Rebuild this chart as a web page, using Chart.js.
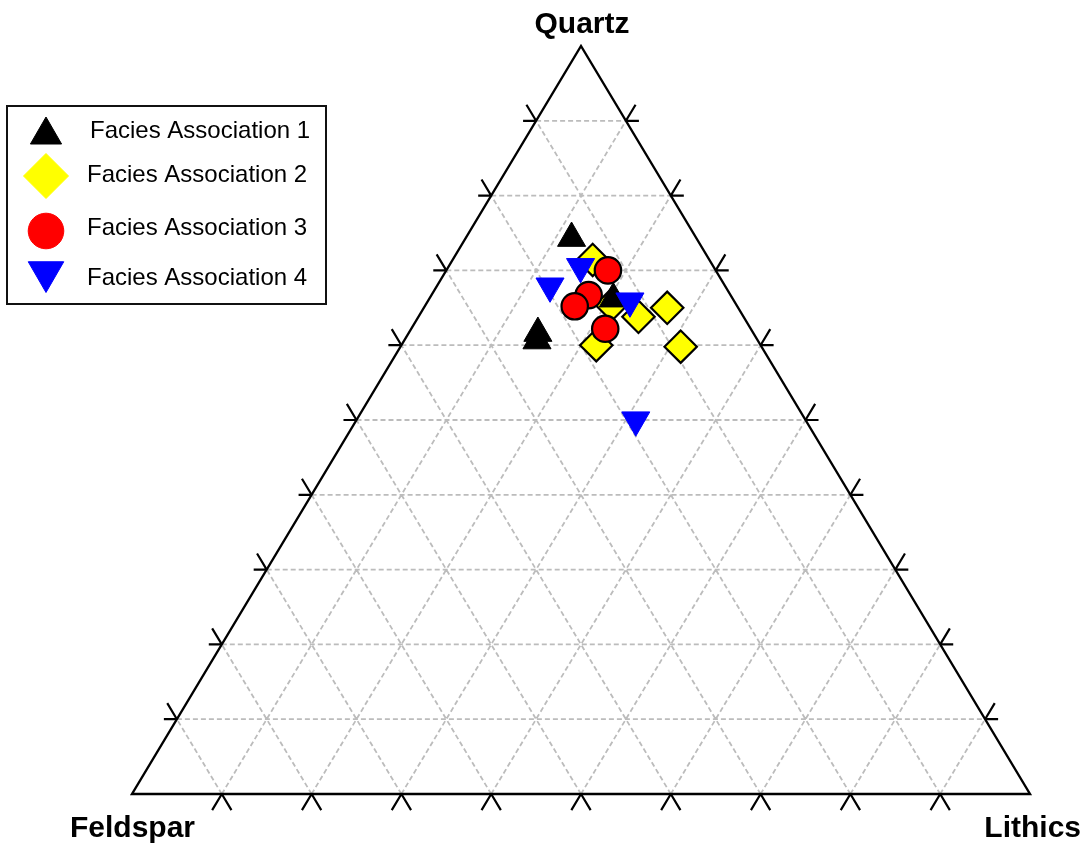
<!DOCTYPE html>
<html>
<head>
<meta charset="utf-8">
<script src="https://cdn.jsdelivr.net/npm/chart.js@4.4.1/dist/chart.umd.min.js"></script>
<style>
  html, body { margin: 0; padding: 0; background: #ffffff; }
  canvas { display: block; }
</style>
</head>
<body>
<canvas id="qfl" width="1089" height="847"></canvas>
<script>
// QFL sandstone composition (percent Quartz / Feldspar / Lithics) per facies association
const seriesNames = ['Facies Association 1', 'Facies Association 2', 'Facies Association 3', 'Facies Association 4'];
const vertexLabels = ['Quartz', 'Feldspar', 'Lithics'];

const fa1Quartz   = [74.3, 66.2, 61.6, 60.6];
const fa1Feldspar = [13.9, 13.3, 24.0, 24.6];
const fa1Lithics  = [11.8, 20.5, 14.4, 14.8];

const fa2Quartz   = [71.4, 65.4, 63.8, 65.0, 60.0, 59.8];
const fa2Feldspar = [13.0, 13.9, 11.7,  7.9, 18.3,  9.0];
const fa2Lithics  = [15.6, 20.7, 24.5, 27.1, 21.7, 31.2];

const fa3Quartz   = [70.0, 66.7, 65.2, 62.2];
const fa3Feldspar = [12.0, 15.8, 18.1, 16.2];
const fa3Lithics  = [18.0, 17.5, 16.7, 21.6];

const fa4Quartz   = [70.5, 67.9, 65.9, 50.0];
const fa4Feldspar = [14.8, 19.5, 11.6, 18.9];
const fa4Lithics  = [14.7, 12.6, 22.5, 31.1];

// grid lines every 10 %
const gridSteps = [10, 20, 30, 40, 50, 60, 70, 80, 90];

// ternary (fractions summing to 1) -> cartesian: Feldspar at (0,0), Lithics at (1,0), Quartz at (0.5,1)
function toXY(q, f, l) {
  const s = q + f + l;
  return { x: (l + q / 2) / s, y: q / s };
}
function seriesPoints(qs, fs, ls) {
  return qs.map((q, i) => toXY(q / 100, fs[i] / 100, ls[i] / 100));
}

const GAP = { x: NaN, y: NaN };
const H_TICK = 0.0145;   // outward extension of horizontal grid lines
const S_TICK = 0.0215;   // outward extension of slanted grid lines

const gridPts = [];
const tickPts = [];
gridSteps.forEach(v => {
  const t = v / 100;
  // constant quartz (horizontal)
  gridPts.push(toXY(t, 1 - t, 0), toXY(t, 0, 1 - t), GAP);
  tickPts.push(toXY(t, 1 - t, 0), toXY(t, 1 - t + H_TICK, -H_TICK), GAP);
  tickPts.push(toXY(t, 0, 1 - t), toXY(t, -H_TICK, 1 - t + H_TICK), GAP);
  // constant lithics
  gridPts.push(toXY(0, 1 - t, t), toXY(1 - t, 0, t), GAP);
  tickPts.push(toXY(0, 1 - t, t), toXY(-S_TICK, 1 - t + S_TICK, t), GAP);
  tickPts.push(toXY(1 - t, 0, t), toXY(1 - t + S_TICK, -S_TICK, t), GAP);
  // constant feldspar
  gridPts.push(toXY(0, t, 1 - t), toXY(1 - t, t, 0), GAP);
  tickPts.push(toXY(0, t, 1 - t), toXY(-S_TICK, t, 1 - t + S_TICK), GAP);
  tickPts.push(toXY(1 - t, t, 0), toXY(1 - t + S_TICK, t, -S_TICK), GAP);
});

// outline: start mid-base so every corner gets a joined stroke
const framePts = [toXY(0, 0.5, 0.5), toXY(0, 0, 1), toXY(1, 0, 0), toXY(0, 1, 0), toXY(0, 0.5, 0.5)];

const markerStyles = [
  { pointStyle: 'triangle', pointRadius: 16.2, pointRotation: 0,   pointBackgroundColor: '#000000', pointBorderColor: '#000000', pointBorderWidth: 1 },
  { pointStyle: 'rectRot',  pointRadius: 16.2, pointRotation: 0,   pointBackgroundColor: '#ffff00', pointBorderColor: '#000000', pointBorderWidth: 2.2 },
  { pointStyle: 'circle',   pointRadius: 13.2, pointRotation: 0,   pointBackgroundColor: '#ff0000', pointBorderColor: '#000000', pointBorderWidth: 2.2 },
  { pointStyle: 'triangle', pointRadius: 16.2, pointRotation: 180, pointBackgroundColor: '#0000ff', pointBorderColor: '#0000ff', pointBorderWidth: 1 }
];
const drawOrder = [3, 4, 2, 1];
const seriesData = [
  seriesPoints(fa1Quartz, fa1Feldspar, fa1Lithics),
  seriesPoints(fa2Quartz, fa2Feldspar, fa2Lithics),
  seriesPoints(fa3Quartz, fa3Feldspar, fa3Lithics),
  seriesPoints(fa4Quartz, fa4Feldspar, fa4Lithics)
];

const pointDatasets = seriesNames.map((name, i) => Object.assign({
  label: name,
  data: seriesData[i],
  showLine: false,
  order: drawOrder[i],
  pointHoverRadius: markerStyles[i].pointRadius
}, markerStyles[i]));

const lineDefaults = { showLine: true, pointRadius: 0, pointHoverRadius: 0, tension: 0, fill: false, spanGaps: false };

// legend box, drawn with the same marker styles as the datasets
const legendBox = { left: 7, top: 106, right: 326, bottom: 304 };
const legendRows = [
  { mx: 46, my: 135, r: 18,   tx: 90, ty: 138 },
  { mx: 46, my: 176, r: 22.5, tx: 87, ty: 182 },
  { mx: 46, my: 231, r: 17.8, tx: 87, ty: 235 },
  { mx: 46, my: 272, r: 20.5, tx: 87, ty: 285 }
];

const legendPlugin = {
  id: 'qflLegend',
  afterDraw(chart) {
    const ctx = chart.ctx;
    ctx.save();
    ctx.lineWidth = 2;
    ctx.strokeStyle = '#111111';
    ctx.strokeRect(legendBox.left, legendBox.top, legendBox.right - legendBox.left, legendBox.bottom - legendBox.top);
    legendRows.forEach((row, i) => {
      const st = markerStyles[i];
      ctx.fillStyle = st.pointBackgroundColor;
      ctx.strokeStyle = st.pointBackgroundColor;
      ctx.lineWidth = 1;
      Chart.helpers.drawPoint(ctx, { pointStyle: st.pointStyle, rotation: st.pointRotation, radius: row.r, borderWidth: 1 }, row.mx, row.my);
      ctx.fillStyle = '#000000';
      ctx.font = '24px "Liberation Sans", Arial, sans-serif';
      ctx.textAlign = 'left';
      ctx.textBaseline = 'alphabetic';
      ctx.fillText(seriesNames[i], row.tx, row.ty);
    });
    ctx.restore();
  }
};

// vertex names placed relative to the vertex pixels
const vertexPlugin = {
  id: 'qflVertices',
  afterDraw(chart) {
    const ctx = chart.ctx, xs = chart.scales.x, ys = chart.scales.y;
    const apex = { x: xs.getPixelForValue(0.5), y: ys.getPixelForValue(1) };
    const left = { x: xs.getPixelForValue(0), y: ys.getPixelForValue(0) };
    const right = { x: xs.getPixelForValue(1), y: ys.getPixelForValue(0) };
    ctx.save();
    ctx.fillStyle = '#000000';
    ctx.font = 'bold 30px "Liberation Sans", Arial, sans-serif';
    ctx.textBaseline = 'alphabetic';
    ctx.textAlign = 'center';
    ctx.fillText(vertexLabels[0], apex.x + 1, apex.y - 13);
    ctx.textAlign = 'left';
    ctx.fillText(vertexLabels[1], left.x - 62, left.y + 43);
    ctx.textAlign = 'right';
    ctx.fillText(vertexLabels[2], right.x + 51, right.y + 43);
    ctx.restore();
  }
};

new Chart(document.getElementById('qfl'), {
  type: 'scatter',
  data: {
    datasets: [
      Object.assign({ label: 'grid', data: gridPts, borderColor: '#bcbcbc', borderWidth: 1.8, borderDash: [5, 3], order: 10 }, lineDefaults),
      Object.assign({ label: 'ticks', data: tickPts, borderColor: '#000000', borderWidth: 2.2, order: 9 }, lineDefaults),
      Object.assign({ label: 'frame', data: framePts, borderColor: '#000000', borderWidth: 2.4, borderJoinStyle: 'miter', order: 8 }, lineDefaults),
      ...pointDatasets
    ]
  },
  options: {
    responsive: false,
    animation: false,
    devicePixelRatio: 1,
    events: [],
    layout: { padding: 0, autoPadding: false },
    scales: {
      x: { type: 'linear', display: false, min: -0.146993, max: 1.065702 },
      y: { type: 'linear', display: false, min: -0.070856, max: 1.061497 }
    },
    plugins: {
      legend: { display: false },
      tooltip: { enabled: false },
      title: { display: false }
    }
  },
  plugins: [legendPlugin, vertexPlugin]
});
</script>
</body>
</html>
